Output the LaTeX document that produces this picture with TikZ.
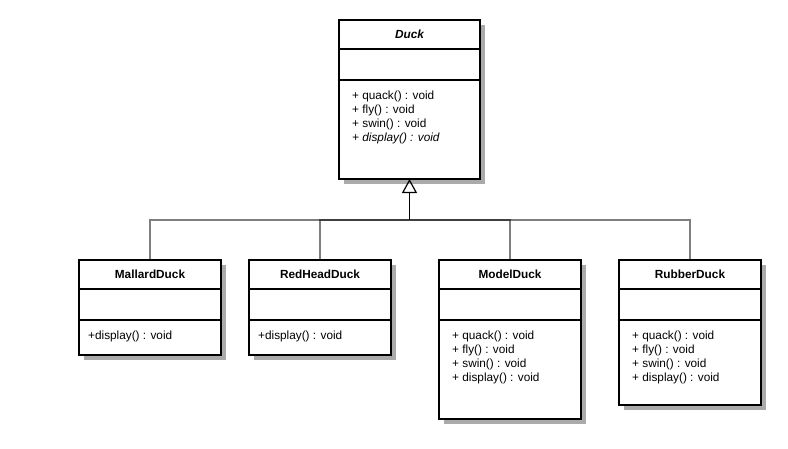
\documentclass[tikz,border=0pt]{standalone}
\usepackage{fontspec}
\setmainfont{Liberation Sans}
\usetikzlibrary{arrows.meta}
\definecolor{shadowgray}{RGB}{170,170,170}
\begin{document}
\begin{tikzpicture}[x=1pt,y=-1pt,
  umlbox/.style={draw=black, line width=1.6pt, fill=white, inner sep=0pt, outer sep=0pt, anchor=north west, minimum width=142pt},
  sepline/.style={draw=black, line width=1.6pt},
  title/.style={font=\fontsize{11.8}{14}\selectfont\bfseries, anchor=base, inner sep=0pt},
  meth/.style={font=\fontsize{11.8}{14}\selectfont, anchor=base west, inner sep=0pt},
  conn/.style={draw=black, opacity=0.5, line width=1.2pt},
  inherit/.style={draw=black, line width=1.8pt, -{Triangle[open, width=15pt, length=14pt, line width=1.2pt]}}
]
\fill[white] (0,0) rectangle (788,448);
\useasboundingbox (0,0) rectangle (788,448);

% shadows
\fill[shadowgray] (344,25) rectangle (485,184);
\fill[shadowgray] (84,265) rectangle (226,360);
\fill[shadowgray] (254,265) rectangle (396,360);
\fill[shadowgray] (444,265) rectangle (586,424);
\fill[shadowgray] (624,265) rectangle (766,410);

% boxes
\node[umlbox, minimum width=141pt, minimum height=159pt] (duck) at (339,20) {};
\node[umlbox, minimum height=95pt] (mallard) at (79,260) {};
\node[umlbox, minimum height=95pt] (redhead) at (249,260) {};
\node[umlbox, minimum height=159pt] (model) at (439,260) {};
\node[umlbox, minimum height=145pt] (rubber) at (619,260) {};

% compartments
\foreach \b in {duck,mallard,redhead,model,rubber}{
  \draw[sepline] ([yshift=-29pt]\b.north west) -- ([yshift=-29pt]\b.north east);
  \draw[sepline] ([yshift=-60pt]\b.north west) -- ([yshift=-60pt]\b.north east);
}

% titles
\node[title, font=\fontsize{11.8}{14}\selectfont\bfseries\itshape] (duckt) at (409.5,38) {Duck};
\node[title] (mallardt) at (150,278) {MallardDuck};
\node[title] (redheadt) at (320,278) {RedHeadDuck};
\node[title] (modelt) at (510,278) {ModelDuck};
\node[title] (rubbert) at (690,278) {RubberDuck};

% methods
\node[meth] (d1) at (352,99) {+ quack() : void};
\node[meth] (d2) at (352,113) {+ fly() : void};
\node[meth] (d3) at (352,127) {+ swin() : void};
\node[meth] (d4) at (352,141) {\itshape + display() : void};

\node[meth] (ma1) at (88,339) {+display() : void};
\node[meth] (r1) at (258,339) {+display() : void};

\node[meth] (mo1) at (452,339) {+ quack() : void};
\node[meth] (mo2) at (452,353) {+ fly() : void};
\node[meth] (mo3) at (452,367) {+ swin() : void};
\node[meth] (mo4) at (452,381) {+ display() : void};

\node[meth] (ru1) at (632,339) {+ quack() : void};
\node[meth] (ru2) at (632,353) {+ fly() : void};
\node[meth] (ru3) at (632,367) {+ swin() : void};
\node[meth] (ru4) at (632,381) {+ display() : void};

% connectors
\coordinate (bus) at (409.5,220);
\draw[conn] (mallard.north) |- (bus);
\draw[conn] (redhead.north) |- (bus);
\draw[conn] (model.north) |- (bus);
\draw[conn] (rubber.north) |- (bus);
\draw[inherit] (bus) -- (duck.south);
\end{tikzpicture}
\end{document}
